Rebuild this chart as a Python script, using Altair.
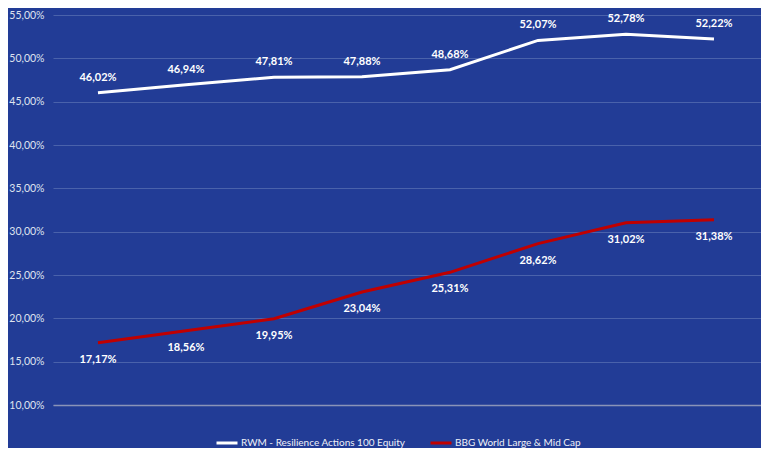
import altair as alt
import pandas as pd

# --- data ---
periods = [0, 1, 2, 3, 4, 5, 6, 7]
series_names = ["RWM - Resilience Actions 100 Equity", "BBG World Large & Mid Cap"]
rwm_values = [46.02, 46.94, 47.81, 47.88, 48.68, 52.07, 52.78, 52.22]
bbg_values = [17.17, 18.56, 19.95, 23.04, 25.31, 28.62, 31.02, 31.38]
y_ticks = [10, 15, 20, 25, 30, 35, 40, 45, 50, 55]

rows = []
for p, v in zip(periods, rwm_values):
    rows.append({"period": p, "value": v, "series": series_names[0]})
for p, v in zip(periods, bbg_values):
    rows.append({"period": p, "value": v, "series": series_names[1]})
df = pd.DataFrame(rows)
df["label"] = df["value"].map(lambda v: f"{v:.2f}".replace(".", ",") + "%")

BG = "#223C96"
FONT = "Lato"

x_enc = alt.X(
    "period:Q",
    scale=alt.Scale(domain=[-0.511, 7.534], nice=False, zero=False),
    axis=alt.Axis(labels=False, ticks=False, grid=False, title=None,
                  domainColor="#8a93b8", domainWidth=1.5),
)
y_enc = alt.Y(
    "value:Q",
    scale=alt.Scale(domain=[10, 55], nice=False, zero=False),
    axis=alt.Axis(values=y_ticks, title=None, ticks=False, domain=False,
                  gridColor="#4a62ab", gridWidth=1,
                  labelExpr="replace(format(datum.value, '.2f'), '.', ',') + '%'",
                  labelColor="#dfe3ef", labelFont=FONT, labelFontSize=10.5,
                  labelPadding=9),
)

color = alt.Color(
    "series:N",
    scale=alt.Scale(domain=series_names, range=["#ffffff", "#c00000"]),
    legend=alt.Legend(
        orient="none", legendX=162, legendY=416, direction="horizontal",
        title=None, symbolType="stroke", symbolSize=441, symbolStrokeWidth=3,
        labelColor="#eef0f6", labelFont=FONT, labelFontSize=10, labelLimit=400,
        labelOffset=2, columnPadding=18,
    ),
)

lines = alt.Chart(df).mark_line(strokeWidth=3).encode(x=x_enc, y=y_enc, color=color)

labels_top = alt.Chart(df).transform_filter(
    alt.datum.series == series_names[0]
).mark_text(dy=-15, color="#ffffff", font=FONT, fontSize=11, fontWeight="bold").encode(
    x="period:Q", y="value:Q", text="label:N"
)
labels_bottom = alt.Chart(df).transform_filter(
    alt.datum.series == series_names[1]
).mark_text(dy=17, color="#ffffff", font=FONT, fontSize=11, fontWeight="bold").encode(
    x="period:Q", y="value:Q", text="label:N"
)

chart = alt.layer(lines, labels_top, labels_bottom).properties(
    width=708, height=390,
    autosize=alt.AutoSizeParams(type="none"),
    padding={"left": 45, "top": 7, "right": 0, "bottom": 43},
    background=BG,
).configure_view(stroke=None)

chart.save("out.html", embed_options={"renderer": "svg", "actions": False})
